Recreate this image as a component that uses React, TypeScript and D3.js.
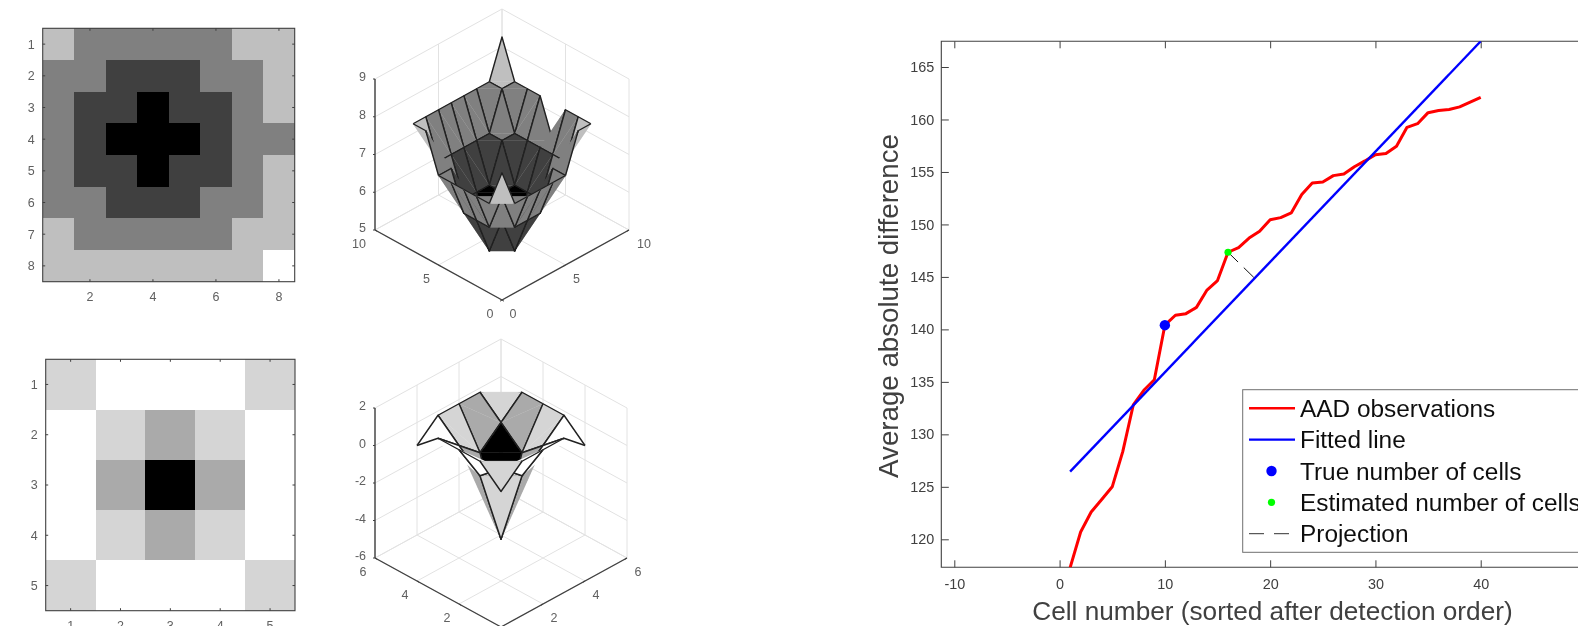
import React, { useRef, useEffect } from 'react';
import * as d3 from 'd3';

// Left column: two small matrices, shown as an image and as a surface
const matrixA = [
  [8, 7, 7, 7, 7, 7, 8, 8],
  [7, 7, 6, 6, 6, 7, 7, 8],
  [7, 6, 6, 5, 6, 6, 7, 8],
  [7, 6, 5, 5, 5, 6, 7, 7],
  [7, 6, 6, 5, 6, 6, 7, 8],
  [7, 7, 6, 6, 6, 7, 7, 8],
  [8, 7, 7, 7, 7, 7, 8, 8],
  [8, 8, 8, 8, 8, 8, 8, 9],
];
const matrixB = [
  [0, 1, 1, 1, 0],
  [1, 0, -1, 0, 1],
  [1, -1, -5, -1, 1],
  [1, 0, -1, 0, 1],
  [0, 1, 1, 1, 0],
];

// Right chart
const cellNumbers = d3.range(1, 41);
const aadValues = [
  117.3, 120.7, 122.6, 123.8, 125.0, 128.35, 132.8, 134.2, 135.2, 140.4,
  141.35, 141.5, 142.1, 143.75, 144.65, 147.35, 147.8, 148.7, 149.35, 150.45,
  150.65, 151.1, 152.85, 153.95, 154.05, 154.65, 154.8, 155.5, 156.05, 156.65,
  156.75, 157.45, 159.25, 159.6, 160.65, 160.85, 160.95, 161.2, 161.65, 162.1,
];
const fittedX = [1, 40];
const fittedY = [126.45, 167.45];
const trueCell = [10, 140.4];
const estimatedCell = [16, 147.35];
const projectionX = [16, 18.5];
const projectionY = [147.35, 144.9];
const xTicks = [-10, 0, 10, 20, 30, 40, 50];
const yTicks = [120, 125, 130, 135, 140, 145, 150, 155, 160, 165];
const legendLabels = ['AAD observations', 'Fitted line', 'True number of cells', 'Estimated number of cells', 'Projection'];

const FONT = '"Liberation Sans", Arial, sans-serif';
const AXIS = '#404040';
const SMALL_TEXT = '#606060';
const SMALL_SIZE = 12.5;

type Sel = d3.Selection<SVGGElement, unknown, null, undefined>;
type Pt = [number, number];

// imagesc style panel
function drawImage(g: Sel, m: number[][], box: number[], xt: number[], labelY: number) {
  const [x0, x1, y0, y1] = box;
  const n = m.length;
  const x = d3.scaleLinear().domain([0.5, n + 0.5]).range([x0, x1]);
  const y = d3.scaleLinear().domain([0.5, n + 0.5]).range([y0, y1]);
  const gray = d3.scaleLinear<string>().domain(d3.extent(m.flat()) as number[]).range(['#000', '#fff']);

  m.forEach((row, i) => row.forEach((v, j) => {
    g.append('rect')
      .attr('x', x(j + 0.5)).attr('y', y(i + 0.5))
      .attr('width', x(j + 1.5) - x(j + 0.5)).attr('height', y(i + 1.5) - y(i + 0.5))
      .attr('fill', gray(v)).attr('shape-rendering', 'crispEdges');
  }));
  g.append('rect').attr('x', x0).attr('y', y0).attr('width', x1 - x0).attr('height', y1 - y0)
    .attr('fill', 'none').attr('stroke', AXIS).attr('stroke-width', 1.1);

  xt.forEach(t => {
    g.append('line').attr('x1', x(t)).attr('x2', x(t)).attr('y1', y1).attr('y2', y1 - 2.5).attr('stroke', AXIS);
    g.append('line').attr('x1', x(t)).attr('x2', x(t)).attr('y1', y0).attr('y2', y0 + 2.5).attr('stroke', AXIS);
    g.append('text').attr('x', x(t)).attr('y', labelY).attr('text-anchor', 'middle')
      .attr('font-size', SMALL_SIZE).attr('fill', SMALL_TEXT).text(t);
  });
  d3.range(1, n + 1).forEach(t => {
    g.append('line').attr('x1', x0).attr('x2', x0 + 2.5).attr('y1', y(t)).attr('y2', y(t)).attr('stroke', AXIS);
    g.append('line').attr('x1', x1).attr('x2', x1 - 2.5).attr('y1', y(t)).attr('y2', y(t)).attr('stroke', AXIS);
    g.append('text').attr('x', x0 - 8).attr('y', y(t)).attr('dy', '0.35em').attr('text-anchor', 'end')
      .attr('font-size', SMALL_SIZE).attr('fill', SMALL_TEXT).text(t);
  });
}

// surf style panel, each quad split into two triangles and painted back to front
function drawSurface(g: Sel, m: number[][], opt: {
  maxXY: number, xyTicks: number[], zTicks: number[], left: number, right: number, floorLeft: number, floorHalf: number, zTop: number,
}) {
  const { maxXY, xyTicks, zTicks, left, right, floorLeft, floorHalf, zTop } = opt;
  const zMin = zTicks[0];
  const zMax = zTicks[zTicks.length - 1];
  const sx = d3.scaleLinear().domain([-maxXY, maxXY]).range([left, right]);
  const sd = d3.scaleLinear().domain([0, maxXY]).range([floorHalf, -floorHalf]);
  const sz = d3.scaleLinear().domain([zMin, zMax]).range([floorLeft, zTop]);
  const px = (X: number, Y: number, Z: number): Pt => [sx(X - Y), sd((X + Y) / 2) + sz(Z)];
  const line = d3.line();
  const seg = (a: Pt, b: Pt, color: string, w = 1) =>
    g.append('path').attr('d', line([a, b])).attr('fill', 'none').attr('stroke', color).attr('stroke-width', w);

  // walls and floor
  const GRID = '#e2e2e2';
  xyTicks.forEach(t => {
    seg(px(t, 0, zMin), px(t, maxXY, zMin), GRID);
    seg(px(0, t, zMin), px(maxXY, t, zMin), GRID);
    seg(px(t, maxXY, zMin), px(t, maxXY, zMax), GRID);
    seg(px(maxXY, t, zMin), px(maxXY, t, zMax), GRID);
  });
  zTicks.forEach(z => {
    seg(px(0, maxXY, z), px(maxXY, maxXY, z), GRID);
    seg(px(maxXY, maxXY, z), px(maxXY, 0, z), GRID);
  });

  // dark axes
  seg(px(0, maxXY, zMin), px(0, maxXY, zMax), AXIS, 1.4);
  seg(px(0, maxXY, zMin), px(0, 0, zMin), AXIS, 1.4);
  seg(px(0, 0, zMin), px(maxXY, 0, zMin), AXIS, 1.4);

  xyTicks.forEach(t => {
    const a = px(0, t, zMin);
    const b = px(t, 0, zMin);
    seg(a, [a[0] + 2, a[1] + 1.2], AXIS);
    seg(b, [b[0] - 2, b[1] + 1.2], AXIS);
    const wide = t >= 10 ? 4 : 0;
    g.append('text').attr('x', a[0] - 12 - wide).attr('y', a[1] + 14).attr('dy', '0.35em')
      .attr('text-anchor', 'middle').attr('font-size', SMALL_SIZE).attr('fill', SMALL_TEXT).text(t);
    g.append('text').attr('x', b[0] + 11 + wide).attr('y', b[1] + 14).attr('dy', '0.35em')
      .attr('text-anchor', 'middle').attr('font-size', SMALL_SIZE).attr('fill', SMALL_TEXT).text(t);
  });
  zTicks.forEach(z => {
    const p = px(0, maxXY, z);
    seg(p, [p[0] - 2, p[1]], AXIS);
    g.append('text').attr('x', p[0] - 9).attr('y', p[1] - 2).attr('dy', '0.35em')
      .attr('text-anchor', 'end').attr('font-size', SMALL_SIZE).attr('fill', SMALL_TEXT).text(z);
  });

  const n = m.length;
  const gray = d3.scaleLinear<string>().domain(d3.extent(m.flat()) as number[]).range(['#000', '#fff']);
  const faces: { i: number, j: number }[] = [];
  d3.range(n - 1).forEach(i => d3.range(n - 1).forEach(j => faces.push({ i, j })));
  faces.sort((a, b) => (b.i + b.j) - (a.i + a.j));
  const triangle = (near: Pt, side1: Pt, side2: Pt, fill: string) => {
    g.append('path').attr('d', d3.line()([near, side1, side2]) + 'Z').attr('fill', fill)
      .attr('stroke', fill).attr('stroke-width', 0.3);
    // only the mesh edges are stroked, never the diagonal
    g.append('path').attr('d', d3.line()([side1, near, side2])).attr('fill', 'none')
      .attr('stroke', '#202020').attr('stroke-width', 1.4).attr('stroke-linejoin', 'round');
  };
  faces.forEach(({ i, j }) => {
    const front = px(j + 1, i + 1, m[i][j]);
    const right2 = px(j + 2, i + 1, m[i][j + 1]);
    const back = px(j + 2, i + 2, m[i + 1][j + 1]);
    const left2 = px(j + 1, i + 2, m[i + 1][j]);
    const fill = gray(m[i][j]);
    triangle(back, right2, left2, fill);
    triangle(front, right2, left2, fill);
  });
}

function drawLineChart(g: Sel) {
  const left = 941.3;
  const top = 41.3;
  const bottom = 567.3;
  const edge = 1578;
  const x = d3.scaleLinear().domain([-10, 50]).range([954.3, 1586]);
  const y = d3.scaleLinear().domain([120, 165]).range([539.3, 67]);

  // ticks on all visible sides, pointing inward
  const axisB = g.append('g').attr('transform', `translate(0,${bottom})`)
    .call(d3.axisBottom(x).tickValues(xTicks).tickFormat(d3.format('d') as any).tickSizeInner(-7).tickSizeOuter(0).tickPadding(20));
  const axisT = g.append('g').attr('transform', `translate(0,${top})`)
    .call(d3.axisTop(x).tickValues(xTicks).tickSizeInner(-7).tickSizeOuter(0).tickFormat(() => ''));
  const axisL = g.append('g').attr('transform', `translate(${left},0)`)
    .call(d3.axisLeft(y).tickValues(yTicks).tickSizeInner(-7.5).tickSizeOuter(0).tickPadding(7));
  [axisB, axisT, axisL].forEach(a => {
    a.select('.domain').remove();
    a.selectAll('line').attr('stroke', AXIS);
    a.selectAll('text').attr('font-family', FONT).attr('font-size', 14.4).attr('fill', AXIS);
  });
  axisB.selectAll('text').attr('dy', '0.1em').text((d: any) => String(d));

  g.append('path')
    .attr('d', `M${edge},${top}H${left}V${bottom}H${edge}`)
    .attr('fill', 'none').attr('stroke', AXIS).attr('stroke-width', 1.1);

  g.append('clipPath').attr('id', 'plot-area').append('rect')
    .attr('x', left).attr('y', top).attr('width', edge - left).attr('height', bottom - top);
  const plot = g.append('g').attr('clip-path', 'url(#plot-area)');

  const line = d3.line<number>().x((_, i) => x(cellNumbers[i])).y(d => y(d));
  plot.append('path').attr('d', line(aadValues)).attr('fill', 'none')
    .attr('stroke', '#ff0000').attr('stroke-width', 3).attr('stroke-linejoin', 'round');

  const twoPoint = (xs: number[], ys: number[]) =>
    d3.line()(xs.map((d, i) => [x(d), y(ys[i])] as Pt));
  plot.append('path').attr('d', twoPoint(fittedX, fittedY)).attr('fill', 'none')
    .attr('stroke', '#0000ff').attr('stroke-width', 2.4);
  plot.append('path').attr('d', twoPoint(projectionX, projectionY)).attr('fill', 'none')
    .attr('stroke', '#111').attr('stroke-width', 1).attr('stroke-dasharray', '14 8');
  plot.append('circle').attr('cx', x(trueCell[0])).attr('cy', y(trueCell[1])).attr('r', 5.2).attr('fill', '#0000ff');
  plot.append('circle').attr('cx', x(estimatedCell[0])).attr('cy', y(estimatedCell[1])).attr('r', 3.6).attr('fill', '#00ff00');

  // axis titles
  g.append('text').attr('x', 1272.5).attr('y', 620).attr('text-anchor', 'middle')
    .attr('font-family', FONT).attr('font-size', 26.2).attr('fill', AXIS)
    .text('Cell number (sorted after detection order)');
  g.append('text').attr('transform', 'translate(898,306) rotate(-90)').attr('text-anchor', 'middle')
    .attr('font-family', FONT).attr('font-size', 27.7).attr('fill', AXIS)
    .text('Average absolute difference');

  // legend
  const legend = g.append('g').attr('font-family', FONT);
  legend.append('rect').attr('x', 1242.7).attr('y', 389.7).attr('width', 400).attr('height', 162.6)
    .attr('fill', '#fff').attr('stroke', '#707070').attr('stroke-width', 1);
  const rowY = d3.scalePoint<string>().domain(legendLabels).range([408.3, 533.7]);
  legendLabels.forEach(label => {
    const ry = rowY(label) as number;
    legend.append('text').attr('x', 1300).attr('y', ry).attr('dy', '0.35em')
      .attr('font-size', 24.4).attr('fill', '#111').text(label);
  });
  const key = (i: number) => rowY(legendLabels[i]) as number;
  legend.append('line').attr('x1', 1249).attr('x2', 1295).attr('y1', key(0)).attr('y2', key(0))
    .attr('stroke', '#ff0000').attr('stroke-width', 2.4);
  legend.append('line').attr('x1', 1249).attr('x2', 1295).attr('y1', key(1)).attr('y2', key(1))
    .attr('stroke', '#0000ff').attr('stroke-width', 2.4);
  legend.append('circle').attr('cx', 1271.5).attr('cy', key(2)).attr('r', 5.2).attr('fill', '#0000ff');
  legend.append('circle').attr('cx', 1271.5).attr('cy', key(3)).attr('r', 3.6).attr('fill', '#00ff00');
  legend.append('line').attr('x1', 1249).attr('x2', 1290).attr('y1', key(4)).attr('y2', key(4))
    .attr('stroke', '#333').attr('stroke-width', 1).attr('stroke-dasharray', '15 10');
}

const App = () => {
  const svgRef = useRef<SVGSVGElement>(null);

  useEffect(() => {
    const svg = d3.select(svgRef.current);
    svg.selectAll('*').remove();

    const defs = svg.append('defs');
    defs.append('filter').attr('id', 'soft').attr('x', 0).attr('y', 0)
      .attr('width', '100%').attr('height', '100%')
      .append('feGaussianBlur').attr('stdDeviation', 0.55);
    defs.append('filter').attr('id', 'softer').attr('x', 0).attr('y', 0)
      .attr('width', '100%').attr('height', '100%')
      .append('feGaussianBlur').attr('stdDeviation', 0.3);

    const leftSide = svg.append('g').attr('font-family', FONT).attr('filter', 'url(#soft)') as unknown as Sel;
    leftSide.append('rect').attr('width', 700).attr('height', 626).attr('fill', '#fff');

    drawImage(leftSide.append('g'), matrixA, [42.7, 294.7, 28.3, 281.7], [2, 4, 6, 8], 301);
    drawImage(leftSide.append('g'), matrixB, [45.7, 295, 359.3, 610.7], [1, 2, 3, 4, 5], 630);

    drawSurface(leftSide.append('g'), matrixA, {
      maxXY: 10, xyTicks: [0, 5, 10], zTicks: [5, 6, 7, 8, 9],
      left: 375, right: 629, floorLeft: 230, floorHalf: 70, zTop: 79,
    });
    drawSurface(leftSide.append('g'), matrixB, {
      maxXY: 6, xyTicks: [0, 2, 4, 6], zTicks: [-6, -4, -2, 0, 2],
      left: 375, right: 627, floorLeft: 558, floorHalf: 69, zTop: 408,
    });

    const rightSide = svg.append('g').attr('filter', 'url(#softer)') as unknown as Sel;
    rightSide.append('rect').attr('x', 700).attr('width', 878).attr('height', 626).attr('fill', '#fff');
    drawLineChart(rightSide);
  }, []);

  return (
    <svg
      ref={svgRef}
      width={1578}
      height={626}
      style={{ position: 'absolute', left: 0, top: 0, display: 'block', background: '#fff' }}
    />
  );
};

export default App;
